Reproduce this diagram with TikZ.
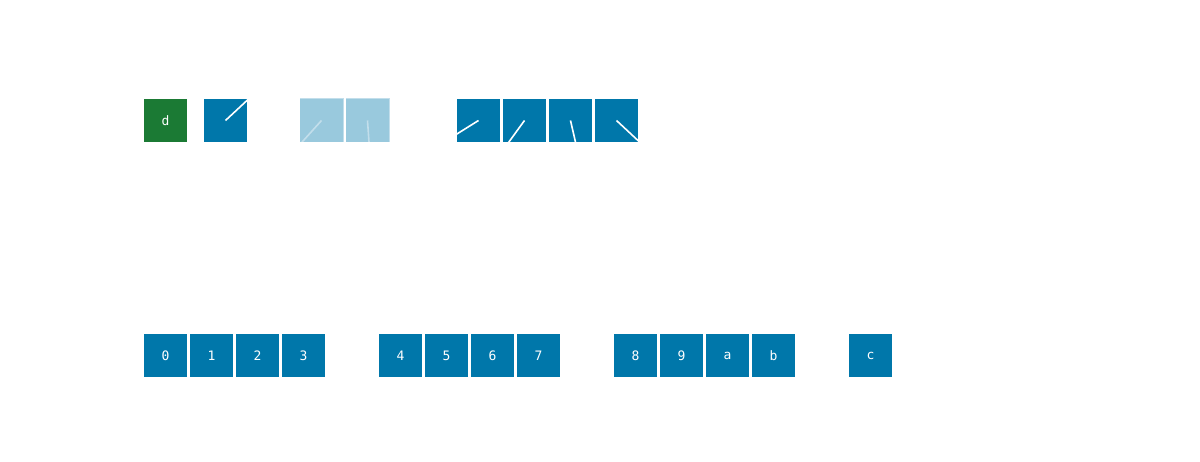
\documentclass[tikz,border=0pt]{standalone}
\usepackage{fontspec}
\setmonofont{DejaVu Sans Mono}
\usepackage{tikz}
\definecolor{cellblue}{RGB}{0,119,170}
\definecolor{cellgreen}{RGB}{27,122,52}

\begin{document}
\begin{tikzpicture}[x=1pt,y=-1pt,
  cell/.style={draw=white,line width=1pt,fill=cellblue,minimum size=44pt,inner sep=0pt,
    text=white,font=\fontsize{13}{15}\selectfont\ttfamily},
  ghost/.style={cell,opacity=0.4},
  hand/.style={draw=white,line width=1.6pt}]
\useasboundingbox (0,0) rectangle (1200,462);
% top row
\node[cell,fill=cellgreen] (d) at (165.5,120.5) {d};
\node[cell] (t0) at (225.5,120.5) {};
\draw[hand] (t0.center) -- (t0.43);
\node[ghost] (g0) at (321.5,120.5) {};
\node[ghost] (g1) at (367.5,120.5) {};
\draw[hand,opacity=0.4] (g0.center) -- (g0.228);
\draw[hand,opacity=0.4] (g1.center) -- (g1.274);
\node[cell] (q0) at (478.5,120.5) {};
\node[cell] (q1) at (524.5,120.5) {};
\node[cell] (q2) at (570.5,120.5) {};
\node[cell] (q3) at (616.5,120.5) {};
\draw[hand] (q0.center) -- (q0.212);
\draw[hand] (q1.center) -- (q1.234);
\draw[hand] (q2.center) -- (q2.283);
\draw[hand] (q3.center) -- (q3.317);
% bottom row
\node[cell] (b0) at (165.5,355.5) {0};
\node[cell] (b1) at (211.5,355.5) {1};
\node[cell] (b2) at (257.5,355.5) {2};
\node[cell] (b3) at (303.5,355.5) {3};
\node[cell] (b4) at (400.5,355.5) {4};
\node[cell] (b5) at (446.5,355.5) {5};
\node[cell] (b6) at (492.5,355.5) {6};
\node[cell] (b7) at (538.5,355.5) {7};
\node[cell] (b8) at (635.5,355.5) {8};
\node[cell] (b9) at (681.5,355.5) {9};
\node[cell] (ba) at (727.5,355.5) {a};
\node[cell] (bb) at (773.5,355.5) {b};
\node[cell] (bc) at (870.5,355.5) {c};
\end{tikzpicture}
\end{document}
